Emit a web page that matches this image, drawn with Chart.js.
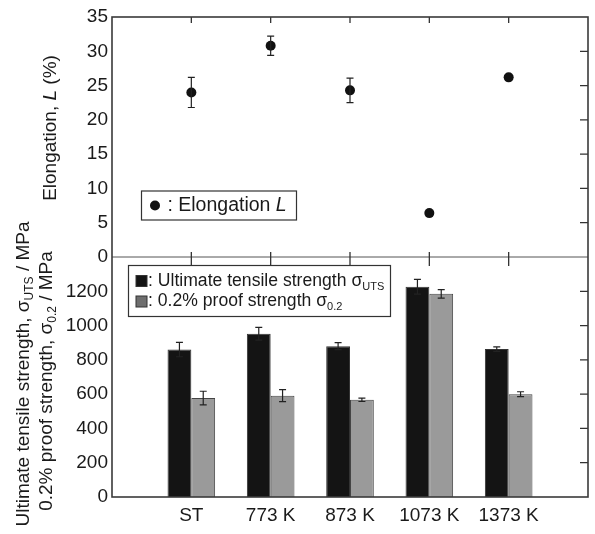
<!DOCTYPE html>
<html>
<head>
<meta charset="utf-8">
<script src="https://cdn.jsdelivr.net/npm/chart.js@4.4.1/dist/chart.umd.min.js"></script>
<style>
  html, body { margin: 0; padding: 0; background: #fff; }
  #wrap { width: 595px; height: 534px; }
</style>
</head>
<body>
<div id="wrap"><canvas id="myChart" width="595" height="534"></canvas></div>
<script>
// heat treatment conditions (x categories)
const categories = ['ST', '773 K', '873 K', '1073 K', '1373 K'];

// elongation L (%) with error
const elongation = [24.0, 30.8, 24.3, 6.4, 26.2];
const elongationErr = [2.2, 1.4, 1.8, 0, 0];

// ultimate tensile strength (MPa) with error
const uts = [860, 952, 880, 1226, 863];
const utsErr = [42, 37, 20, 43, 13];

// 0.2% proof strength (MPa) with error
const proof = [577, 591, 567, 1185, 600];
const proofErr = [40, 35, 10, 25, 14];

const FONT = '"Liberation Sans", Arial, sans-serif';
const TXT = '#1a1a1a';

// categories sit on 1..n of a linear axis, with one empty slot each side
const xPos = categories.map((c, i) => i + 1);
const toPts = arr => arr.map((v, i) => ({x: xPos[i], y: v}));

// draws text made of parts (plain / subscript / italic), left aligned, baseline middle
function partFont(p, size) {
  const s = p.sub ? Math.round(size * 0.65) : size;
  return (p.it ? 'italic ' : '') + s + 'px ' + FONT;
}
function richWidth(ctx, parts, size) {
  let w = 0;
  parts.forEach(p => { ctx.font = partFont(p, size); w += ctx.measureText(p.t).width; });
  return w;
}
function drawRich(ctx, parts, x, y, size) {
  ctx.textBaseline = 'middle';
  ctx.textAlign = 'left';
  parts.forEach(p => {
    ctx.font = partFont(p, size);
    ctx.fillText(p.t, x, p.sub ? y + size * 0.32 : y);
    x += ctx.measureText(p.t).width;
  });
}
function drawRotated(ctx, parts, cx, cy, size) {
  ctx.save();
  ctx.translate(cx, cy);
  ctx.rotate(-Math.PI / 2);
  drawRich(ctx, parts, -richWidth(ctx, parts, size) / 2, 0, size);
  ctx.restore();
}

const errorBarPlugin = {
  id: 'errorBars',
  afterDatasetsDraw(chart) {
    const ctx = chart.ctx;
    ctx.save();
    ctx.strokeStyle = '#222';
    ctx.lineWidth = 1.2;
    chart.data.datasets.forEach((ds, i) => {
      if (!ds.errors) return;
      const meta = chart.getDatasetMeta(i);
      const scale = chart.scales[ds.yAxisID];
      meta.data.forEach((el, j) => {
        const e = ds.errors[j];
        if (!e) return;
        const v = ds.data[j].y;
        const top = scale.getPixelForValue(v + e);
        const bot = scale.getPixelForValue(v - e);
        const px = el.x;
        ctx.beginPath();
        ctx.moveTo(px, top); ctx.lineTo(px, bot);
        ctx.moveTo(px - 3.5, top); ctx.lineTo(px + 3.5, top);
        ctx.moveTo(px - 3.5, bot); ctx.lineTo(px + 3.5, bot);
        ctx.stroke();
      });
    });
    ctx.restore();
  }
};

const framePlugin = {
  id: 'frame',
  afterDatasetsDraw(chart) {
    const {ctx, chartArea: a, scales} = chart;
    const yL = scales.yL, yS = scales.yS, x = scales.x;
    ctx.save();
    ctx.strokeStyle = '#555';
    ctx.lineWidth = 1;
    ctx.beginPath();
    ctx.moveTo(a.left, yL.bottom); ctx.lineTo(a.right, yL.bottom);
    ctx.stroke();

    ctx.strokeStyle = '#333';
    ctx.lineWidth = 1.3;
    ctx.beginPath();
    x.ticks.forEach(t => {
      if (t.value < 1 || t.value > categories.length) return;
      const px = x.getPixelForValue(t.value);
      ctx.moveTo(px, a.top); ctx.lineTo(px, a.top + 6);
      ctx.moveTo(px, yL.bottom - 5); ctx.lineTo(px, yL.bottom + 9);
    });
    [yL, yS].forEach(s => s.ticks.forEach(t => {
      const py = s.getPixelForValue(t.value);
      if (py <= s.top + 1 || py >= s.bottom - 1) return;
      ctx.moveTo(a.right - 8, py); ctx.lineTo(a.right, py);
    }));
    ctx.stroke();

    ctx.strokeStyle = '#3a3a3a';
    ctx.lineWidth = 1.6;
    ctx.strokeRect(a.left, a.top, a.right - a.left, a.bottom - a.top);
    ctx.restore();
  }
};

const labelPlugin = {
  id: 'labels',
  afterDraw(chart) {
    const {ctx, scales} = chart;
    const yL = scales.yL, yS = scales.yS;
    ctx.save();
    ctx.fillStyle = TXT;

    // axis titles
    drawRotated(ctx, [{t: 'Elongation, '}, {t: 'L', it: true}, {t: ' (%)'}],
      51, (yL.top + yL.bottom) / 2 - 9, 19);
    drawRotated(ctx, [{t: 'Ultimate tensile strength, σ'}, {t: 'UTS', sub: true}, {t: ' / MPa'}],
      24, (yS.top + yS.bottom) / 2 - 3, 19);
    drawRotated(ctx, [{t: '0.2% proof strength, σ'}, {t: '0.2', sub: true}, {t: ' / MPa'}],
      47, (yS.top + yS.bottom) / 2 + 4, 19);

    // legend of the elongation panel
    ctx.strokeStyle = '#333';
    ctx.lineWidth = 1.2;
    ctx.fillStyle = '#fff';
    ctx.fillRect(141.5, 191, 155, 29);
    ctx.strokeRect(141.5, 191, 155, 29);
    ctx.fillStyle = '#111';
    ctx.beginPath(); ctx.arc(155, 205.5, 5, 0, Math.PI * 2); ctx.fill();
    ctx.fillStyle = TXT;
    drawRich(ctx, [{t: ' : Elongation '}, {t: 'L', it: true}], 162, 206, 19.5);

    // legend of the strength panel
    ctx.fillStyle = '#fff';
    ctx.fillRect(128.5, 265.5, 262, 51);
    ctx.strokeRect(128.5, 265.5, 262, 51);
    ctx.lineWidth = 1;
    ctx.fillStyle = '#141414';
    ctx.fillRect(136, 275.5, 11, 11);
    ctx.strokeRect(136, 275.5, 11, 11);
    ctx.fillStyle = '#6e6e6e';
    ctx.fillRect(136, 296, 11, 11);
    ctx.strokeRect(136, 296, 11, 11);
    ctx.fillStyle = TXT;
    drawRich(ctx, [{t: ': Ultimate tensile strength σ'}, {t: 'UTS', sub: true}], 148, 281, 17.6);
    drawRich(ctx, [{t: ': 0.2% proof strength σ'}, {t: '0.2', sub: true}], 148, 301.5, 17.6);
    ctx.restore();
  }
};

const tickFont = {family: FONT, size: 19};

new Chart(document.getElementById('myChart'), {
  type: 'bar',
  data: {
    datasets: [
      {
        label: 'Ultimate tensile strength',
        data: toPts(uts),
        errors: utsErr,
        yAxisID: 'yS',
        backgroundColor: '#141414',
        borderColor: '#333',
        borderWidth: 1,
        categoryPercentage: 0.6,
        barPercentage: 1.0
      },
      {
        label: '0.2% proof strength',
        data: toPts(proof),
        errors: proofErr,
        yAxisID: 'yS',
        backgroundColor: '#9a9a9a',
        borderColor: '#444',
        borderWidth: 1,
        categoryPercentage: 0.6,
        barPercentage: 1.0
      },
      {
        type: 'scatter',
        label: 'Elongation L',
        data: toPts(elongation),
        errors: elongationErr,
        yAxisID: 'yL',
        pointRadius: 5,
        pointBackgroundColor: '#111',
        pointBorderWidth: 0,
        showLine: false
      }
    ]
  },
  options: {
    responsive: false,
    animation: false,
    events: [],
    layout: {padding: {top: 17, right: 5, left: 0, bottom: 0}},
    plugins: {legend: {display: false}, tooltip: {enabled: false}},
    scales: {
      x: {
        type: 'linear',
        min: 0,
        max: categories.length + 1,
        offset: false,
        grid: {display: false, drawTicks: false},
        border: {display: false},
        ticks: {
          stepSize: 1,
          autoSkip: false,
          maxRotation: 0,
          padding: 7,
          color: TXT,
          font: tickFont,
          callback: v => categories[v - 1] || ''
        },
        afterFit: s => { s.height = 37; }
      },
      yS: {
        type: 'linear',
        position: 'left',
        stack: 'panels',
        stackWeight: 1,
        min: 0,
        max: 1400,
        grid: {display: false, drawTicks: false},
        border: {display: false},
        ticks: {
          stepSize: 200,
          autoSkip: false,
          maxTicksLimit: 20,
          padding: 4,
          color: TXT,
          font: tickFont,
          callback: v => (v >= 1400 ? '' : v)
        },
        afterFit: s => { s.width = 112; }
      },
      yL: {
        type: 'linear',
        position: 'left',
        stack: 'panels',
        stackWeight: 1,
        min: 0,
        max: 35,
        grid: {display: false, drawTicks: false},
        border: {display: false},
        ticks: {
          stepSize: 5,
          autoSkip: false,
          maxTicksLimit: 20,
          padding: 4,
          color: TXT,
          font: tickFont
        },
        afterFit: s => { s.width = 112; }
      }
    }
  },
  plugins: [framePlugin, errorBarPlugin, labelPlugin]
});
</script>
</body>
</html>
